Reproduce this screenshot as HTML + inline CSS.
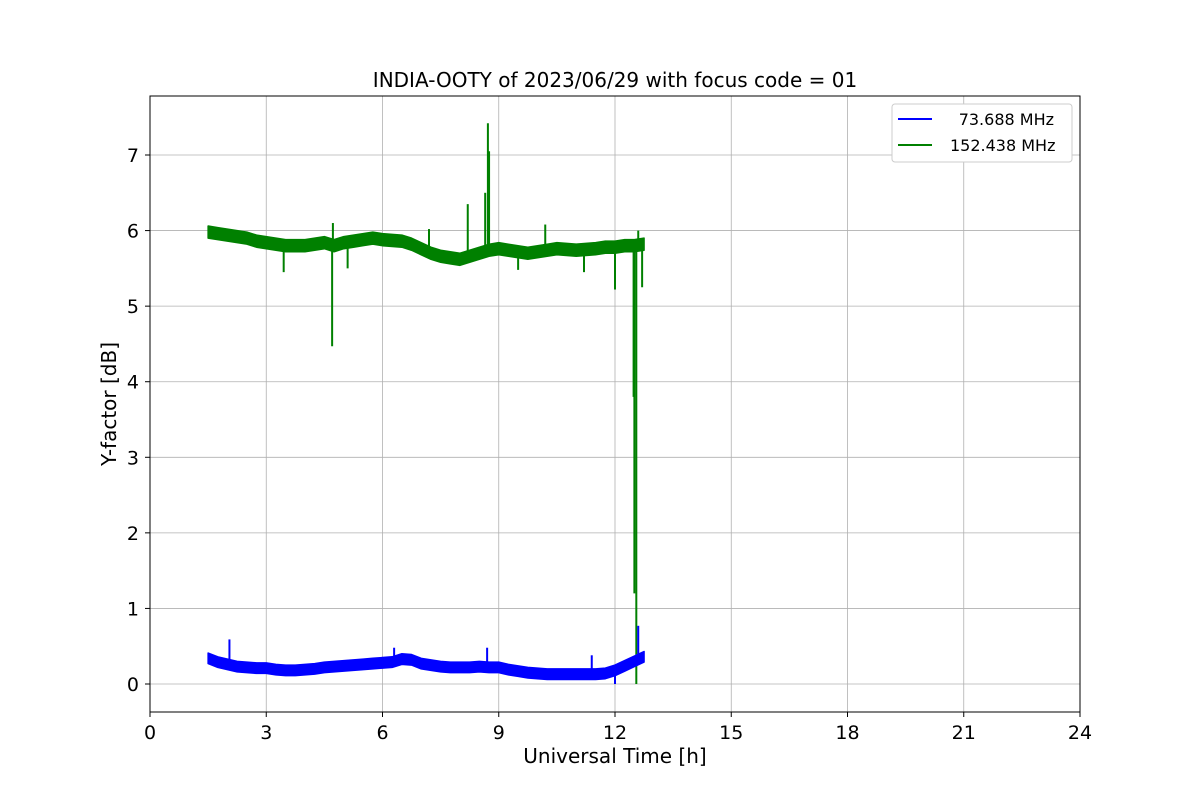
<!DOCTYPE html>
<html><head><meta charset="utf-8"><style>
body{margin:0;background:#fff;}
svg text{font-family:"DejaVu Sans","Liberation Sans",sans-serif;fill:#000;}
</style></head><body>
<svg id="chart" width="1200" height="800">
<rect width="1200" height="800" fill="#fff"/>
<g id="grid"></g>
<g id="series"></g>
<rect x="150" y="96" width="930" height="616" fill="none" stroke="#000" stroke-width="1"/>
<g id="ticks"></g>
<text x="615" y="87" font-size="20" text-anchor="middle">INDIA-OOTY of 2023/06/29 with focus code = 01</text>
<text x="615" y="763" font-size="20" text-anchor="middle">Universal Time [h]</text>
<text transform="translate(116,404) rotate(-90)" font-size="20" text-anchor="middle">Y-factor [dB]</text>
<g>
<rect x="892" y="104" width="180" height="58" rx="3" fill="#fff" stroke="#ccc"/>
<line x1="898" y1="119" x2="932" y2="119" stroke="#0000ff" stroke-width="2"/>
<text x="1054" y="125" font-size="16" text-anchor="end">73.688 MHz</text>
<line x1="898" y1="145" x2="932" y2="145" stroke="#008000" stroke-width="2"/>
<text x="950" y="151" font-size="16">152.438 MHz</text>
</g>
</svg>
<script>
const xTicks=[0,3,6,9,12,15,18,21,24];
const yTicks=[0,1,2,3,4,5,6,7];
const times=[1.5,1.75,2,2.25,2.5,2.75,3,3.25,3.5,3.75,4,4.25,4.5,4.75,5,5.25,5.5,5.75,6,6.25,6.5,6.75,7,7.25,7.5,7.75,8,8.25,8.5,8.75,9,9.25,9.5,9.75,10,10.25,10.5,10.75,11,11.25,11.5,11.75,12,12.25,12.5,12.75];
const greenMid=[5.98,5.96,5.94,5.92,5.9,5.86,5.84,5.82,5.8,5.8,5.8,5.82,5.84,5.8,5.84,5.86,5.88,5.9,5.88,5.87,5.86,5.82,5.76,5.7,5.66,5.64,5.62,5.66,5.7,5.74,5.76,5.74,5.72,5.7,5.72,5.74,5.76,5.75,5.74,5.75,5.76,5.78,5.78,5.8,5.8,5.82];
const blueMid=[0.34,0.29,0.26,0.23,0.22,0.21,0.21,0.19,0.18,0.18,0.19,0.2,0.22,0.23,0.24,0.25,0.26,0.27,0.28,0.29,0.33,0.32,0.27,0.25,0.23,0.22,0.22,0.22,0.23,0.22,0.22,0.19,0.17,0.15,0.14,0.13,0.13,0.13,0.13,0.13,0.13,0.14,0.18,0.24,0.3,0.36];
const bandHalf=[0.08,0.07];
const greenSpikeT=[3.45,4.7,4.72,5.1,7.2,8.2,8.65,8.72,8.75,9.5,10.2,11.2,12.0,12.48,12.5,12.55,12.6,12.7];
const greenSpikeV=[5.45,4.47,6.1,5.5,6.02,6.35,6.5,7.42,7.05,5.48,6.08,5.45,5.22,3.8,1.2,0.0,6.0,5.25];
const blueSpikeT=[2.05,6.3,8.7,11.4,12.0,12.6];
const blueSpikeV=[0.59,0.48,0.48,0.38,0.0,0.77];
const NS="http://www.w3.org/2000/svg";
const X=v=>150+v*930/24;
const Y=v=>684-v*75.57;
function mk(tag,parent,attrs){const e=document.createElementNS(NS,tag);for(const k in attrs)e.setAttribute(k,attrs[k]);parent.appendChild(e);return e;}
const grid=document.getElementById('grid'),ticks=document.getElementById('ticks'),ser=document.getElementById('series');
xTicks.forEach(t=>{const x=X(t);
 const g=mk('line',grid,{x1:x,x2:x,y1:96,y2:712,stroke:'#b0b0b0','stroke-width':0.8});
 
 
 const k=mk('line',ticks,{x1:x,x2:x,y1:712,y2:717,stroke:'#000'});
 
 
 const l=mk('text',ticks,{x:x,y:739,'font-size':19,'text-anchor':'middle'});l.textContent=t;
 
 
});
yTicks.forEach(t=>{const y=Y(t);
 const g=mk('line',grid,{x1:150,x2:1080,y1:y,y2:y,stroke:'#b0b0b0','stroke-width':0.8});
 
 
 const k=mk('line',ticks,{x1:145,x2:150,y1:y,y2:y,stroke:'#000'});
 
 
 const l=mk('text',ticks,{x:139,y:y+7,'font-size':19,'text-anchor':'end'});l.textContent=t;
 
 
});
function interp(arr,t){for(let i=0;i<times.length-1;i++){if(t<=times[i+1]){const f=(t-times[i])/(times[i+1]-times[i]);return arr[i]+f*(arr[i+1]-arr[i]);}}return arr[arr.length-1];}
function band(mid,half,color,name,spT,spV){
 let pts=[];
 times.forEach((t,i)=>pts.push(X(t)+','+Y(mid[i]+half)));
 for(let i=times.length-1;i>=0;i--)pts.push(X(times[i])+','+Y(mid[i]-half));
 const p=mk('polygon',ser,{points:pts.join(' '),fill:color,stroke:color,'stroke-width':1.5,'stroke-linejoin':'round'});
 
 
 spT.forEach((t,i)=>{const b=interp(mid,t);
  const s=mk('line',ser,{x1:X(t),x2:X(t),y1:Y(b),y2:Y(spV[i]),stroke:color,'stroke-width':2});
  
  
 });
}
band(greenMid,bandHalf[0],'#008000','series-152mhz',greenSpikeT,greenSpikeV);
band(blueMid,bandHalf[1],'#0000ff','series-73mhz',blueSpikeT,blueSpikeV);
</script>
</body></html>
